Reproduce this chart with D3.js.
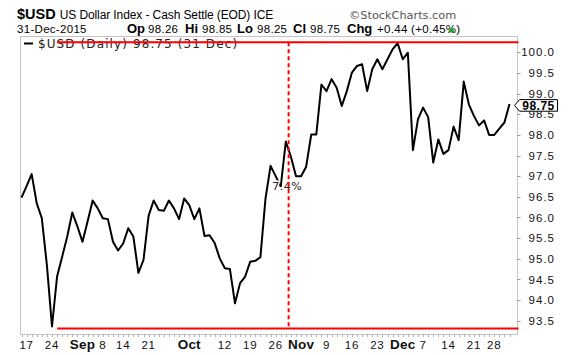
<!DOCTYPE html>
<html><head><meta charset="utf-8">
<script src="https://cdn.jsdelivr.net/npm/d3@7/dist/d3.min.js"></script>
<style>
html,body{margin:0;padding:0;background:#fff;}
svg{display:block;}
</style></head>
<body>
<svg id="chart" width="575" height="355"></svg>
<script>
// ---------- DATA ----------
const startDate = "2015-08-14", endDate = "2015-12-31";
const holidays = ["2015-09-07", "2015-11-26", "2015-12-25"];
// daily closes, one per trading day from 14-Aug-2015 to 31-Dec-2015
const closes = [
  96.48, 96.76, 97.05, 96.34, 95.98, 94.84, 93.36, 94.57, 95.05, 95.54,
  96.12, 95.78, 95.41, 95.90, 96.41, 96.22, 95.98, 95.96, 95.41, 95.20,
  95.37, 95.74, 95.54, 94.66, 94.97, 96.04, 96.41, 96.18, 96.16, 96.41,
  96.22, 95.96, 96.46, 96.30, 95.96, 96.22, 95.55, 95.57, 95.38, 95.01,
  94.77, 94.75, 93.92, 94.41, 94.57, 94.93, 94.95, 95.04, 96.46, 97.25,
  97.00, 96.75, 97.84, 97.47, 97.00, 97.00, 97.23, 98.01, 98.01, 99.22,
  99.06, 99.35, 99.14, 98.70, 99.06, 99.51, 99.67, 99.71, 99.06, 99.59,
  99.83, 99.59, 99.83, 100.07, 100.22, 99.83, 99.99, 97.63, 98.38, 98.66,
  98.43, 97.33, 97.89, 97.54, 97.63, 98.20, 97.87, 99.29, 98.74, 98.46,
  98.23, 98.35, 98.00, 98.00, 98.15, 98.30, 98.75
];
const yTicks = [93.5, 94.0, 94.5, 95.0, 95.5, 96.0, 96.5, 97.0, 97.5, 98.0, 98.5, 99.0, 99.5, 100.0];
const xTickDates = ["2015-08-17","2015-08-24","2015-09-01","2015-09-08","2015-09-14","2015-09-21",
  "2015-10-01","2015-10-12","2015-10-19","2015-10-26","2015-11-02","2015-11-09","2015-11-16",
  "2015-11-23","2015-12-01","2015-12-07","2015-12-14","2015-12-21","2015-12-28"];
const xTickLabels = ["17","24","Sep","8","14","21","Oct","12","19","26","Nov","9","16","23","Dec","7","14","21","28"];
const monthLabels = ["Sep","Oct","Nov","Dec"];
// annotation: low/high levels and the date of the 7.4% marker
const annoLow = 93.31, annoHigh = 100.245;
const annoStartDate = "2015-08-25";
const annoMarkPos = 52.55;   // position (in trading days from first point) of the dashed marker
const annoText = "7.4%";
// header
const symbol = "$USD", title = "US Dollar Index - Cash Settle (EOD) ICE";
const credit = "\u00A9StockCharts.com", dateText = "31-Dec-2015";
const quoteLabels = ["Op","Hi","Lo","Cl","Chg"];
const quoteValues = ["98.26","98.85","98.25","98.75","+0.44 (+0.45%)"];
const legendText = "$USD (Daily) 98.75 (31 Dec)";
const lastLabel = "98.75";

// ---------- BUILD ----------
const fmt = d3.timeFormat("%Y-%m-%d");
const dates = d3.timeDay.range(new Date(startDate+"T00:00"), d3.timeDay.offset(new Date(endDate+"T00:00"),1))
  .filter(d => d.getDay() !== 0 && d.getDay() !== 6 && !holidays.includes(fmt(d)))
  .map(fmt);
const data = dates.map((d,i)=>({date:d, v:closes[i]}));

const svg = d3.select("#chart");
const frame = {l:20.5, r:517.5, t:36.5, b:334.5};
const x = d3.scalePoint().domain(dates).range([21.5, 509.5]);
const y = d3.scaleLinear().domain([93.5, 100]).range([320.7, 52.3]);
const step = x.step();
const xPos = p => x.range()[0] + p*step;
const sans = "Liberation Sans, Arial, sans-serif";
const verd = "DejaVu Sans, Verdana, sans-serif";

// header row 1
const h1 = svg.append("text").attr("x",17).attr("y",19).attr("font-family",sans);
h1.append("tspan").attr("font-weight","bold").attr("font-size",14.5).text(symbol);
h1.append("tspan").attr("font-size",12).attr("dx",4).attr("letter-spacing",-0.1).text(title);
svg.append("text").attr("x",349).attr("y",19).attr("font-family",verd)
  .attr("font-size",11.3).attr("fill","#555").text(credit);
// header row 2
svg.append("text").attr("x",17).attr("y",33).attr("font-family",sans)
  .attr("font-size",11.5).attr("letter-spacing",0.3).text(dateText);
const labelX = [127,185,237,293,347], valueX = [148,202,257,310,377];
quoteLabels.forEach((l,i)=>{
  svg.append("text").attr("x",labelX[i]).attr("y",33).attr("font-family",sans)
    .attr("font-weight","bold").attr("font-size",13).text(l);
  svg.append("text").attr("x",valueX[i]).attr("y",33).attr("font-family",sans)
    .attr("font-size",11.5).attr("letter-spacing",0.3).text(quoteValues[i]);
});
svg.append("path").attr("d", d3.symbol(d3.symbolTriangle, 22)()).attr("fill","#2c9c2c")
  .attr("transform",`translate(451.5,30.5)`);

// frame
svg.append("rect").attr("x",frame.l).attr("y",frame.t).attr("width",frame.r-frame.l).attr("height",frame.b-frame.t)
  .attr("fill","none").attr("stroke","#c4c4c4").attr("stroke-width",1);

// x minor ticks (every trading day)
svg.append("g").selectAll("line").data(dates).join("line")
  .attr("x1",d=>Math.round(x(d))+0.5).attr("x2",d=>Math.round(x(d))+0.5)
  .attr("y1",frame.b+0.5).attr("y2",frame.b+2.5).attr("stroke","#b0b0b0").attr("stroke-width",1);

// x labels
svg.append("g").selectAll("text").data(xTickDates).join("text")
  .attr("x",d=>x(d)).attr("y",349).attr("text-anchor","middle")
  .attr("font-family",sans)
  .attr("font-size",(d,i)=>monthLabels.includes(xTickLabels[i])?13.5:11.5)
  .attr("font-weight",(d,i)=>monthLabels.includes(xTickLabels[i])?"bold":"normal")
  .attr("letter-spacing",(d,i)=>monthLabels.includes(xTickLabels[i])?0.2:0.8)
  .attr("fill","#111")
  .text((d,i)=>xTickLabels[i]);

// y axis (right)
const ya = svg.append("g");
ya.selectAll("line").data(yTicks).join("line")
  .attr("x1",frame.r).attr("x2",frame.r+3).attr("y1",d=>Math.round(y(d))+0.5).attr("y2",d=>Math.round(y(d))+0.5)
  .attr("stroke","#999");
ya.selectAll("text").data(yTicks).join("text")
  .attr("x",555).attr("y",d=>y(d)).attr("dy","0.36em").attr("text-anchor","end")
  .attr("font-family",sans).attr("font-size",11.5).attr("letter-spacing",1)
  .attr("fill","#111").text(d=>d.toFixed(1));

// legend
svg.append("line").attr("x1",24).attr("x2",33).attr("y1",43.5).attr("y2",43.5).attr("stroke","#000").attr("stroke-width",2);
svg.append("text").attr("x",38).attr("y",48).attr("font-family",verd)
  .attr("font-size",12).attr("letter-spacing",1.1).attr("fill","#222").text(legendText);

// price line
svg.append("path").datum(data)
  .attr("d", d3.line().x(d=>x(d.date)).y(d=>y(d.v)))
  .attr("fill","none").attr("stroke","#000").attr("stroke-width",2).attr("stroke-linejoin","round");

// annotation label (white halo hides the price line beneath)
svg.append("text").attr("x",xPos(annoMarkPos)-1.5).attr("y",190).attr("text-anchor","middle")
  .attr("font-family",verd).attr("font-size",11).attr("letter-spacing",0.5).attr("fill","#222")
  .attr("stroke","#fff").attr("stroke-width",3).attr("paint-order","stroke").text(annoText);

// annotation lines
const ax0 = x(annoStartDate);
svg.append("line").attr("x1",ax0).attr("x2",frame.r+1).attr("y1",y(annoHigh)).attr("y2",y(annoHigh))
  .attr("stroke","#ff0000").attr("stroke-width",2);
svg.append("line").attr("x1",ax0).attr("x2",frame.r+1).attr("y1",y(annoLow)).attr("y2",y(annoLow))
  .attr("stroke","#ff0000").attr("stroke-width",2);
svg.append("line").attr("x1",xPos(annoMarkPos)).attr("x2",xPos(annoMarkPos))
  .attr("y1",y(annoHigh)).attr("y2",y(annoLow))
  .attr("stroke","#ff0000").attr("stroke-width",2).attr("stroke-dasharray","4,3");

// last value tag
const ly = y(closes[closes.length-1]) + 1.5;
const bx = 514.5;
svg.append("path")
  .attr("d",`M${bx},${ly} L${bx+5},${ly-5.8} L${bx+43},${ly-5.8} L${bx+43},${ly+5.8} L${bx+5},${ly+5.8} Z`)
  .attr("fill","#fff").attr("stroke","#000").attr("stroke-width",1);
svg.append("text").attr("x",bx+24).attr("y",ly).attr("dy","0.36em").attr("text-anchor","middle")
  .attr("font-family",sans).attr("font-size",12).attr("font-weight","bold")
  .attr("letter-spacing",0.5).text(lastLabel);
</script>
</body></html>
